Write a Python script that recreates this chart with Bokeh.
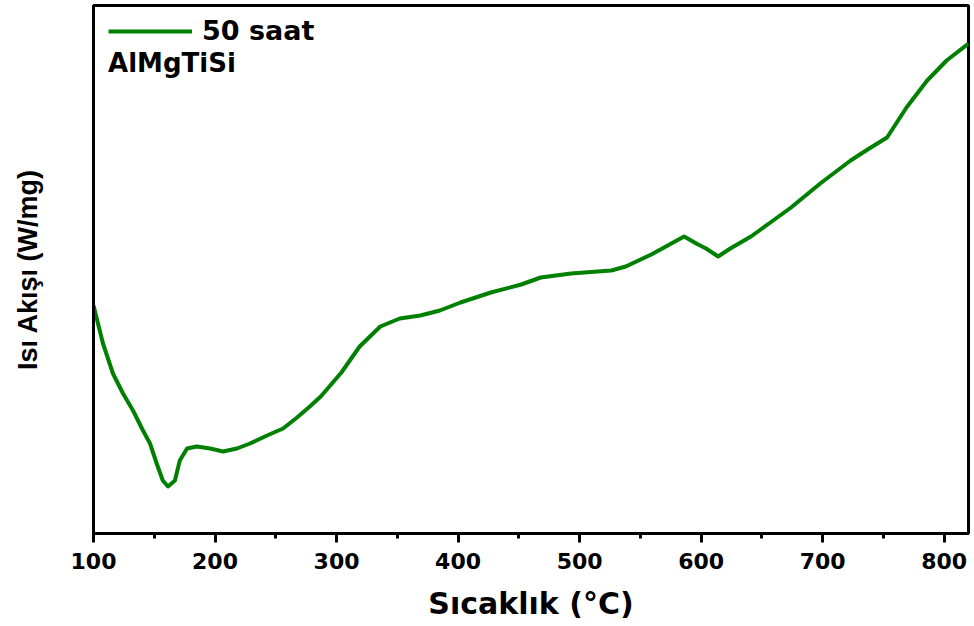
from bokeh.plotting import figure
from bokeh.models import Range1d, Legend, LegendItem, Label, SingleIntervalTicker, FixedTicker
from bokeh.embed import file_html
from bokeh.resources import INLINE

# DSC trace, AlMgTiSi after 50 h milling (heat flow in arbitrary units)
temperature = [100, 107.8, 116, 124.3, 132.5, 140.7, 146.5, 152, 157, 161.3,
               167, 171, 177, 185, 196, 206.6, 218, 228.8, 242.8, 256,
               267.5, 278, 287, 304, 319, 336, 352, 369, 385, 402,
               427, 452, 468, 493, 526, 538, 559, 586, 596, 604,
               614, 624, 641, 657, 674, 698, 723, 737, 753, 769,
               786, 802, 820]
heat_flow = [228, 190, 160, 140, 123, 103, 90, 70, 53, 47,
             53, 73, 85, 87, 85, 82, 85, 90, 98, 105,
             116, 127, 137, 161, 187, 207, 215, 218, 223, 231,
             241, 249, 256, 260, 263, 267, 279, 297, 290, 285,
             277, 285, 297, 311, 326, 350, 373, 384, 396, 426,
             453, 473, 490]

series_label = "50 saat"
alloy_label = "AlMgTiSi"
x_title = "Sıcaklık (°C)"
y_title = "Isı Akışı (W/mg)"

GREEN = "#008000"
BLACK = "#000000"

p = figure(width=974, height=626, output_backend="svg", toolbar_location=None,
           x_range=Range1d(100, 820), y_range=Range1d(0, 528),
           min_border_left=93, min_border_right=6, min_border_top=5,
           min_border_bottom=93)
p.background_fill_color = "white"
p.border_fill_color = "white"
p.grid.visible = False
p.outline_line_color = BLACK
p.outline_line_width = 3

r = p.line(temperature, heat_flow, line_color=GREEN, line_width=4,
           line_join="round")

# x axis
xa = p.xaxis[0]
xa.ticker = SingleIntervalTicker(interval=100, num_minor_ticks=2)
xa.axis_label = x_title
xa.axis_label_text_font = "DejaVu Sans"
xa.axis_label_text_font_style = "bold"
xa.axis_label_text_font_size = "30px"
xa.axis_label_text_color = BLACK
xa.axis_label_standoff = 14
xa.major_label_text_font = "DejaVu Sans"
xa.major_label_text_font_style = "bold"
xa.major_label_text_font_size = "22px"
xa.major_label_text_color = BLACK
xa.major_label_standoff = 10
xa.axis_line_width = 3
xa.axis_line_color = BLACK
xa.major_tick_line_width = 3
xa.minor_tick_line_width = 3
xa.major_tick_line_color = BLACK
xa.minor_tick_line_color = BLACK
xa.major_tick_in = 0
xa.major_tick_out = 9
xa.minor_tick_in = 0
xa.minor_tick_out = 5

# y axis: no ticks; bounds set so the title sits slightly above centre
# (the frame outline still draws the full left edge)
ya = p.yaxis[0]
ya.ticker = FixedTicker(ticks=[])
ya.bounds = (34, 528)
ya.axis_label = y_title
ya.axis_label_text_font = "Liberation Sans"
ya.axis_label_text_font_style = "bold"
ya.axis_label_text_font_size = "27px"
ya.axis_label_text_color = BLACK
ya.axis_label_standoff = 51
ya.major_tick_line_color = None
ya.minor_tick_line_color = None
ya.axis_line_width = 3
ya.axis_line_color = BLACK

legend = Legend(items=[LegendItem(label=series_label, renderers=[r])],
                location=(15, 487), margin=0, padding=0,
                border_line_color=None, background_fill_alpha=0,
                glyph_width=84, glyph_height=24, label_height=24,
                label_standoff=10,
                label_text_font="DejaVu Sans", label_text_font_style="bold",
                label_text_font_size="27px", label_text_color=BLACK)
p.add_layout(legend)

p.add_layout(Label(x=112, y=471, text=alloy_label, text_font="DejaVu Sans",
                   text_font_style="bold", text_font_size="26px",
                   text_color=BLACK,
                   text_baseline="middle", text_align="left"))

open("out.html", "w").write(file_html(p, INLINE))
